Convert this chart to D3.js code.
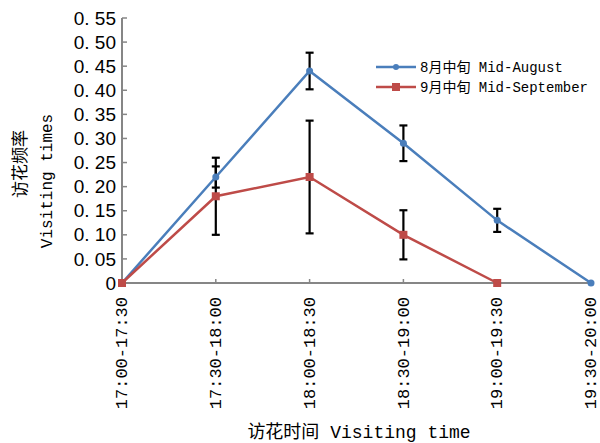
<!DOCTYPE html>
<html>
<head>
<meta charset="utf-8">
<script src="https://cdn.jsdelivr.net/npm/d3@7"></script>
<style>
  body { margin: 0; background: #fff; }
  text { font-family: "Liberation Mono", "Noto Sans CJK SC", monospace; fill: #000; }
</style>
</head>
<body>
<div id="vizcontainer"></div>
<script>
const width = 600, height = 443;

const periods = ['17:00-17:30', '17:30-18:00', '18:00-18:30', '18:30-19:00', '19:00-19:30', '19:30-20:00'];
const augValues = [0, 0.22, 0.44, 0.29, 0.13, 0];
const augErrors = [null, 0.022, 0.038, 0.037, 0.024, null];
const sepValues = [0, 0.18, 0.22, 0.10, 0];
const sepErrors = [null, 0.08, 0.117, 0.051, null];
const yTicks = [0, 0.05, 0.10, 0.15, 0.20, 0.25, 0.30, 0.35, 0.40, 0.45, 0.50, 0.55];
const seriesNames = ['8月中旬 Mid-August', '9月中旬 Mid-September'];

const blue = '#4a7ebb', red = '#be4b48', axisGrey = '#868686';

const svg = d3.select('#vizcontainer')
  .append('svg')
  .attr('width', width)
  .attr('height', height);

const x = d3.scalePoint()
  .domain(periods)
  .range([122, 591]);

const y = d3.scaleLinear()
  .domain([0, 0.55])
  .range([283, 18]);

// axes
svg.append('line')
  .attr('x1', x(periods[0])).attr('x2', x(periods[0]))
  .attr('y1', y(0.55)).attr('y2', y(0))
  .attr('stroke', axisGrey).attr('stroke-width', 2);
svg.append('line')
  .attr('x1', x(periods[0])).attr('x2', x(periods[periods.length - 1]))
  .attr('y1', y(0)).attr('y2', y(0))
  .attr('stroke', axisGrey).attr('stroke-width', 2);

svg.selectAll('.ytick')
  .data(yTicks.slice(1))
  .enter().append('line')
  .attr('x1', x(periods[0])).attr('x2', x(periods[0]) + 5)
  .attr('y1', d => y(d)).attr('y2', d => y(d))
  .attr('stroke', axisGrey).attr('stroke-width', 1.5);

svg.selectAll('.xtick')
  .data(periods.slice(1, -1))
  .enter().append('line')
  .attr('x1', d => x(d)).attr('x2', d => x(d))
  .attr('y1', y(0)).attr('y2', y(0) - 4)
  .attr('stroke', axisGrey).attr('stroke-width', 1.5);

svg.selectAll('.ylabel')
  .data(yTicks)
  .enter().append('text')
  .attr('x', 116)
  .attr('y', d => y(d))
  .attr('dy', '0.35em')
  .attr('text-anchor', 'end')
  .style('font-size', '19px')
  .style('font-family', 'Liberation Sans, Arial, sans-serif')
  .text(d => d === 0 ? '0' : d3.format('.2f')(d).replace('.', '. '));

svg.selectAll('.xlabel')
  .data(periods)
  .enter().append('text')
  .attr('transform', d => `translate(${x(d)},297) rotate(-90)`)
  .attr('dy', '0.3em')
  .attr('text-anchor', 'end')
  .style('font-size', '17px')
  .text(d => d);

// axis titles
svg.append('text')
  .attr('transform', 'translate(20,164) rotate(-90)')
  .attr('dy', '0.35em')
  .attr('text-anchor', 'middle')
  .style('font-size', '17px')
  .style('font-family', 'Noto Sans CJK SC')
  .text('访花频率');
svg.append('text')
  .attr('transform', 'translate(46,181) rotate(-90)')
  .attr('dy', '0.35em')
  .attr('text-anchor', 'middle')
  .style('font-size', '16px')
  .text('Visiting times');
svg.append('text')
  .attr('x', 359)
  .attr('y', 438)
  .attr('text-anchor', 'middle')
  .style('font-size', '18px')
  .text('访花时间 Visiting time');

const line = d3.line()
  .x((d, i) => x(periods[i]))
  .y(d => y(d));

// error bars
function errorBars(values, errors) {
  const g = svg.append('g');
  values.forEach((v, i) => {
    const e = errors[i];
    if (!e) return;
    const cx = x(periods[i]);
    g.append('line')
      .attr('x1', cx).attr('x2', cx)
      .attr('y1', y(v + e)).attr('y2', y(v - e))
      .attr('stroke', '#000').attr('stroke-width', 2.2);
    [v + e, v - e].forEach(t => {
      g.append('line')
        .attr('x1', cx - 4).attr('x2', cx + 4)
        .attr('y1', y(t)).attr('y2', y(t))
        .attr('stroke', '#000').attr('stroke-width', 2.2);
    });
  });
}

svg.append('path')
  .datum(augValues)
  .attr('fill', 'none')
  .attr('stroke', blue)
  .attr('stroke-width', 2.5)
  .attr('d', line);

svg.append('path')
  .datum(sepValues)
  .attr('fill', 'none')
  .attr('stroke', red)
  .attr('stroke-width', 2.5)
  .attr('d', line);

errorBars(sepValues, sepErrors);
errorBars(augValues, augErrors);

svg.selectAll('.augpt')
  .data(augValues)
  .enter().append('circle')
  .attr('cx', (d, i) => x(periods[i]))
  .attr('cy', d => y(d))
  .attr('r', 3.5)
  .attr('fill', blue);

svg.selectAll('.seppt')
  .data(sepValues)
  .enter().append('rect')
  .attr('x', (d, i) => x(periods[i]) - 4)
  .attr('y', d => y(d) - 4)
  .attr('width', 8).attr('height', 8)
  .attr('fill', red);

// legend
const legend = svg.append('g');
[blue, red].forEach((c, i) => {
  const ly = 67 + i * 20;
  legend.append('line')
    .attr('x1', 376).attr('x2', 416)
    .attr('y1', ly).attr('y2', ly)
    .attr('stroke', c).attr('stroke-width', 2.5);
  if (i === 0) {
    legend.append('circle').attr('cx', 396).attr('cy', ly).attr('r', 3).attr('fill', c);
  } else {
    legend.append('rect').attr('x', 392).attr('y', ly - 4).attr('width', 8).attr('height', 8).attr('fill', c);
  }
  legend.append('text')
    .attr('x', 420)
    .attr('y', ly)
    .attr('dy', '0.35em')
    .style('font-size', '14px')
    .text(seriesNames[i]);
});
</script>
</body>
</html>
